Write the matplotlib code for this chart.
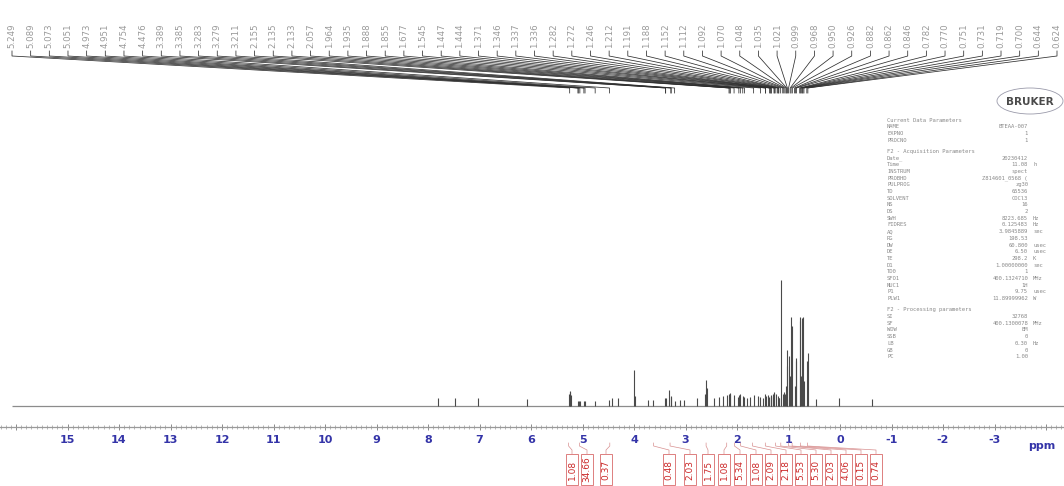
"""
1H NMR spektar - rekonstrukcija Bruker ispisa
"""

import numpy as np
import matplotlib.pyplot as plt
from matplotlib.patches import Rectangle, Ellipse
from matplotlib.ticker import FixedLocator, FixedFormatter, MultipleLocator

# -------------------------------
# PODACI
# -------------------------------

# položaji pikova (ppm) i visine (relativno)
peak_ppm = [7.80, 7.47, 7.03, 6.08,
            5.27, 5.249, 5.235, 5.22, 5.089, 5.073, 5.051,
            4.973, 4.951, 4.754, 4.476, 4.43, 4.31,
            4.00, 3.98, 3.73, 3.64,
            3.389, 3.385, 3.329, 3.283, 3.279, 3.211, 3.10, 3.03,
            2.78, 2.62, 2.60, 2.58,
            2.45, 2.355, 2.28, 2.20, 2.155, 2.135, 2.133, 2.057, 1.99,
            1.964, 1.935, 1.888, 1.855, 1.80, 1.74, 1.677, 1.60, 1.545,
            1.50, 1.447, 1.444, 1.40, 1.371, 1.346, 1.337, 1.336, 1.30,
            1.282, 1.272, 1.246, 1.212, 1.191, 1.188,
            1.152, 1.112, 1.092, 1.070, 1.048, 1.035, 1.021, 0.999, 0.968,
            0.950, 0.926, 0.882, 0.862, 0.846, 0.782, 0.770, 0.751, 0.731,
            0.719, 0.700, 0.644, 0.624,
            0.47, 0.02, -0.62]
peak_int = [8, 8, 8, 7,
            12, 15, 14, 11, 5, 5, 5,
            5, 5, 5, 6, 8, 8,
            36, 10, 6, 6,
            8, 8, 16, 10, 9, 5, 6, 6,
            8, 12, 26, 18,
            8, 9, 10, 11, 12, 13, 12, 11, 9,
            11, 12, 10, 9, 8, 9, 11, 10, 9,
            8, 12, 10, 11, 9, 11, 10, 9, 12,
            13, 14, 12, 10, 8, 8,
            126, 12, 14, 12, 20, 40, 56, 50, 30,
            89, 80, 20, 48, 45, 89, 85, 30, 88,
            89, 25, 45, 53,
            7, 8, 7]

# oznake pikova na vrhu
peak_labels = [5.249, 5.089, 5.073, 5.051, 4.973, 4.951, 4.754, 4.476,
               3.389, 3.385, 3.283, 3.279, 3.211, 2.155, 2.135, 2.133,
               2.057, 1.964, 1.935, 1.888, 1.855, 1.677, 1.545, 1.447,
               1.444, 1.371, 1.346, 1.337, 1.336, 1.282, 1.272, 1.246,
               1.212, 1.191, 1.188, 1.152, 1.112, 1.092, 1.070, 1.048,
               1.035, 1.021, 0.999, 0.968, 0.950, 0.926, 0.882, 0.862,
               0.846, 0.782, 0.770, 0.751, 0.731, 0.719, 0.700, 0.644,
               0.624]

# integrali
integral_values = ['1.08', '34.66', '0.37', '0.48', '2.03', '1.75', '1.08',
                   '5.34', '1.08', '2.09', '2.18', '5.53', '5.30', '2.03',
                   '4.06', '0.15', '0.74']
integral_ppm = [5.27, 5.06, 4.47, 3.62, 3.30, 2.60, 2.20, 2.05, 1.93,
                1.70, 1.45, 1.25, 1.15, 1.00, 0.93, 0.77, 0.63]

axis_ticks = list(range(-4, 17))

# parametri snimanja
params = [
    ('Current Data Parameters', '', ''),
    ('NAME', 'BTEAA-007', ''),
    ('EXPNO', '1', ''),
    ('PROCNO', '1', ''),
    None,
    ('F2 - Acquisition Parameters', '', ''),
    ('Date_', '20230412', ''),
    ('Time', '11.08', 'h'),
    ('INSTRUM', 'spect', ''),
    ('PROBHD', 'Z814601_0568 (', ''),
    ('PULPROG', 'zg30', ''),
    ('TD', '65536', ''),
    ('SOLVENT', 'CDCl3', ''),
    ('NS', '16', ''),
    ('DS', '2', ''),
    ('SWH', '8223.685', 'Hz'),
    ('FIDRES', '0.125483', 'Hz'),
    ('AQ', '3.9845889', 'sec'),
    ('RG', '198.53', ''),
    ('DW', '60.800', 'usec'),
    ('DE', '6.50', 'usec'),
    ('TE', '298.2', 'K'),
    ('D1', '1.00000000', 'sec'),
    ('TD0', '1', ''),
    ('SFO1', '400.1324710', 'MHz'),
    ('NUC1', '1H', ''),
    ('P1', '9.75', 'usec'),
    ('PLW1', '11.89999962', 'W'),
    None,
    ('F2 - Processing parameters', '', ''),
    ('SI', '32768', ''),
    ('SF', '400.1300078', 'MHz'),
    ('WDW', 'EM', ''),
    ('SSB', '0', ''),
    ('LB', '0.30', 'Hz'),
    ('GB', '0', ''),
    ('PC', '1.00', ''),
]

# -------------------------------
# RASPORED
# -------------------------------

W, H = 1064, 486
X_LEFT, X_RIGHT = 840 / 51.5, -(W - 840) / 51.5

fig = plt.figure(figsize=(W / 100, H / 100), dpi=100)


def fx(px):
    return px / W


def fy(py):
    return 1 - py / H


def px2ppm(px):
    return X_LEFT + (px / W) * (X_RIGHT - X_LEFT)


# glavni spektar
ax = fig.add_axes([0, fy(427), 1, (427 - 60) / H])
ax.set_xlim(X_LEFT, X_RIGHT)
ax.set_ylim(-21, 346)
ax.hlines(0, px2ppm(12), X_RIGHT, color='#8c8c8c', lw=0.9)
ax.vlines(peak_ppm, 0, peak_int, color='#4a4a4a', lw=0.8)

for s in ['top', 'left', 'right']:
    ax.spines[s].set_visible(False)
ax.spines['bottom'].set_color('#9a9a9a')
ax.spines['bottom'].set_linewidth(0.9)
ax.set_yticks([])
ax.xaxis.set_major_locator(FixedLocator(axis_ticks))
ax.xaxis.set_major_formatter(FixedFormatter(
    [str(t) if -3 <= t <= 15 else '' for t in axis_ticks]))
ax.xaxis.set_minor_locator(MultipleLocator(0.1))
ax.tick_params(axis='x', which='major', direction='inout', length=5,
               width=0.7, color='#8a8a8a', pad=3, labelsize=8,
               labelcolor='#3434a8')
ax.tick_params(axis='x', which='minor', direction='inout', length=2.5,
               width=0.5, color='#9a9a9a')
for lab in ax.get_xticklabels():
    lab.set_fontweight('bold')
ax.text(-3.92, -0.038, 'ppm', transform=ax.get_xaxis_transform(),
        ha='center', va='top', fontsize=8, fontweight='bold',
        color='#3434a8')

# nadsloj u pikselima (y) i ppm (x)
ov = fig.add_axes([0, 0, 1, 1])
ov.set_xlim(X_LEFT, X_RIGHT)
ov.set_ylim(H, 0)
ov.axis('off')

# oznake pikova i linije vodilje
label_x = [px2ppm(p) for p in np.linspace(12, 1057, len(peak_labels))]
for lx, pk in zip(label_x, peak_labels):
    ov.text(lx, 48, f'{pk:.3f}', rotation=90, ha='center', va='bottom',
            fontsize=6.2, color='#999999')
    ov.plot([lx, lx, pk, pk], [51, 56, 88, 93], color='#2e2e2e', lw=0.55)

# integrali
box_px = [572, 587, 606, 669, 690, 708, 724, 740, 756, 771, 786, 801,
          816, 831, 846, 861, 876]
bw = 12 / 51.5
for bp, val, ip in zip(box_px, integral_values, integral_ppm):
    bx = px2ppm(bp)
    ov.add_patch(Rectangle((bx - bw / 2, 454), bw, 31, fill=False,
                           ec='#d86a6a', lw=0.6))
    ov.text(bx, 469.5, val, rotation=90, ha='center', va='center',
            fontsize=6.5, color='#cc2a2a')
    ov.plot([bx, bx, ip, ip], [454, 450, 446, 443], color='#d89090', lw=0.5)

# parametri
PFONT = dict(fontsize=4.0, family='DejaVu Sans Mono', color='#8a8a8a',
             va='center')
y0 = 120
for row in params:
    if row is None:
        y0 += 4.5
        continue
    key, val, unit = row
    fig.text(fx(887), fy(y0), key, **PFONT)
    if val:
        fig.text(fx(1028), fy(y0), val, ha='right', **PFONT)
    if unit:
        fig.text(fx(1033), fy(y0), unit, **PFONT)
    y0 += 6.7

# logo
fig.text(fx(1030), fy(102), 'BRUKER', ha='center', va='center',
         fontsize=7.5, fontweight='bold', color='#4a4a4a')
ov.add_patch(Ellipse((px2ppm(1030), 101), 66 / 51.5, 26, fill=False,
                     ec='#9a9aaa', lw=0.6))

fig.savefig('out.png', dpi=100)
